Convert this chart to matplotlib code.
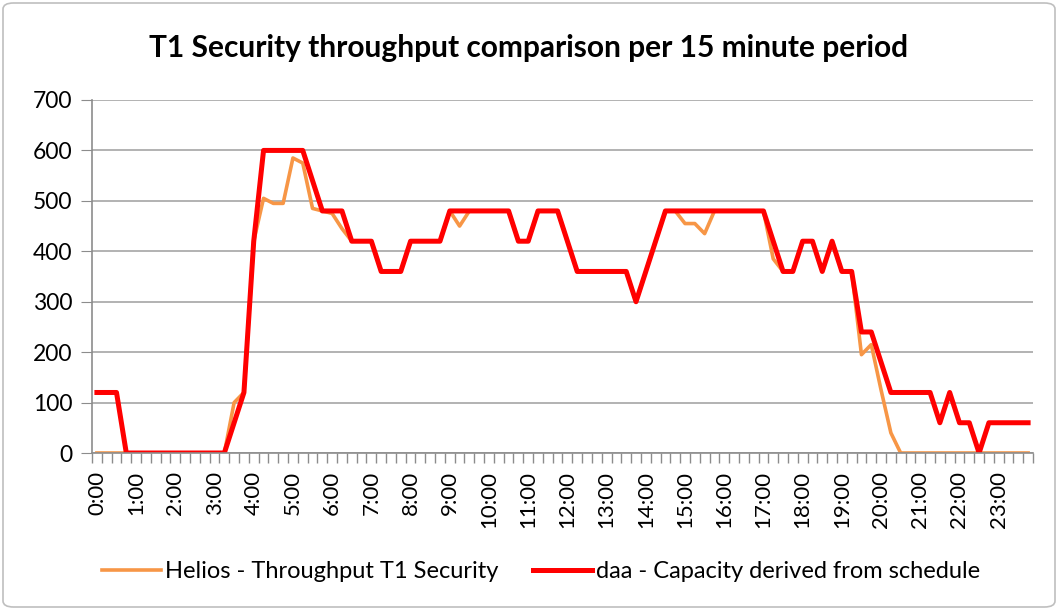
import matplotlib.pyplot as plt
import numpy as np
from matplotlib.patches import FancyBboxPatch

# 15 minute periods, 0:00 .. 23:45
periods = ["%d:%02d" % (m // 60, m % 60) for m in range(0, 24 * 60, 15)]

helios = [0, 0, 0, 0, 0, 0, 0, 0, 0, 0, 0, 0, 0, 0, 100, 120,
          420, 505, 495, 495, 585, 575, 485, 480, 475, 445, 420, 420,
          420, 360, 360, 360, 420, 420, 420, 420, 480, 450, 480, 480,
          480, 480, 480, 420, 420, 480, 480, 480, 420, 360, 360, 360,
          360, 360, 360, 300, 360, 420, 480, 480, 455, 455, 435, 480,
          480, 480, 480, 480, 480, 385, 360, 360, 420, 420, 360, 420,
          360, 360, 195, 215, 125, 40, 0, 0, 0, 0, 0, 0,
          0, 0, 0, 0, 0, 0, 0, 0]

daa = [120, 120, 120, 0, 0, 0, 0, 0, 0, 0, 0, 0, 0, 0, 60, 120,
       420, 600, 600, 600, 600, 600, 540, 480, 480, 480, 420, 420,
       420, 360, 360, 360, 420, 420, 420, 420, 480, 480, 480, 480,
       480, 480, 480, 420, 420, 480, 480, 480, 420, 360, 360, 360,
       360, 360, 360, 300, 360, 420, 480, 480, 480, 480, 480, 480,
       480, 480, 480, 480, 480, 420, 360, 360, 420, 420, 360, 420,
       360, 360, 240, 240, 180, 120, 120, 120, 120, 120, 60, 120,
       60, 60, 0, 60, 60, 60, 60, 60]

plt.rcParams['font.family'] = ["Lato", "DejaVu Sans"]

fig = plt.figure(figsize=(10.58, 6.10), dpi=100)
ax = fig.add_axes([92 / 1058, 1 - 453 / 610, 941 / 1058, 353 / 610])

# chart border
fig.patches.append(FancyBboxPatch((3 / 1058, 3 / 610), 1052 / 1058, 604 / 610,
                                  boxstyle="round,pad=0,rounding_size=0.01",
                                  transform=fig.transFigure, fill=False,
                                  edgecolor="#bfbfbf", linewidth=1.2))

x = np.arange(len(periods))
ax.plot(x, helios, color="#F79646", linewidth=2.6, label="Helios - Throughput T1 Security",
        solid_joinstyle="round")
ax.plot(x, daa, color="#FF0000", linewidth=3.6, label="daa - Capacity derived from schedule",
        solid_joinstyle="round")

ax.set_xlim(-0.5, len(periods) - 0.5)
ax.set_ylim(0, 700)
ax.set_yticks(range(0, 701, 100))
ax.yaxis.grid(True, color="#a6a6a6", linewidth=1.2)
ax.set_axisbelow(True)

ax.set_xticks(x[::4])
ax.set_xticklabels(periods[::4], rotation=90)
ax.set_xticks(np.arange(-0.5, len(periods), 1), minor=True)
ax.tick_params(axis="x", which="major", length=0, pad=13, labelsize=16)
ax.tick_params(axis="x", which="minor", length=7, color="#8c8c8c", width=1)
ax.tick_params(axis="y", length=8, color="#8c8c8c", labelsize=16.5, pad=6)

for s in ["top", "right"]:
    ax.spines[s].set_visible(False)
for s in ["left", "bottom"]:
    ax.spines[s].set_color("#8c8c8c")
    ax.spines[s].set_linewidth(1.2)

fig.text(0.5, 1 - 48 / 610, "T1 Security throughput comparison per 15 minute period",
         ha="center", va="center", fontsize=21.5, fontweight="bold")

fig.legend(loc="center", bbox_to_anchor=(541 / 1058, 1 - 572 / 610), ncol=2, frameon=False,
           fontsize=17, handlelength=2.5, handletextpad=0.15, columnspacing=1.5)

fig.savefig("out.png", dpi=100)
